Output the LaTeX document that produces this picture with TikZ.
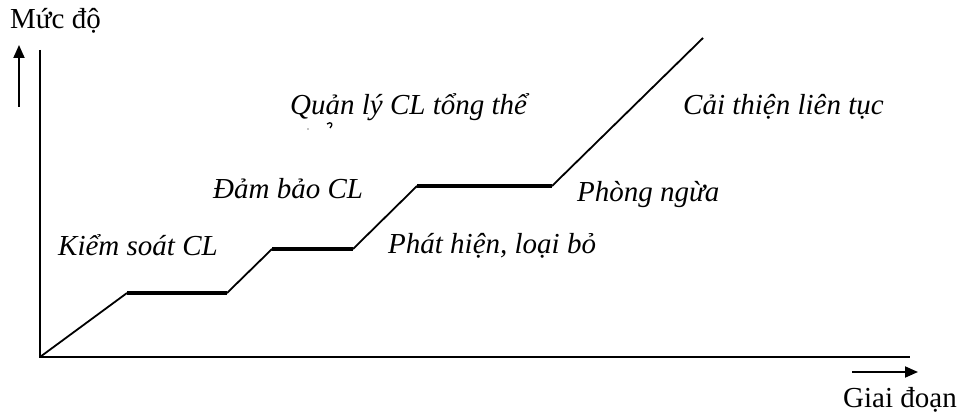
\documentclass[tikz,border=0pt]{standalone}
\usepackage{fontspec}
\setmainfont{Liberation Serif}
\usetikzlibrary{arrows.meta}
\begin{document}
\begin{tikzpicture}[x=1pt,y=-1pt,
  thinline/.style={line width=1.8pt},
  plateau/.style={line width=4.8pt},
  stage/.style={font=\fontsize{29}{34}\selectfont\itshape, inner sep=0pt, anchor=base west},
  axistext/.style={font=\fontsize{29}{34}\selectfont, inner sep=0pt, anchor=base west},
  pointer/.style={line width=1.8pt, -{Triangle[length=13pt,width=11pt]}}]
\useasboundingbox (0,0) rectangle (958,414);

% axes
\coordinate (O) at (40,357);
\coordinate (ytop) at (40,50);
\coordinate (xend) at (910,357);
\draw[thinline] (ytop) -- (O) -- (xend);

% direction arrows beside the axes
\coordinate (ua) at (19,107);
\coordinate (ub) at (19,45);
\draw[pointer] (ua) -- (ub);
\coordinate (ra) at (852,372);
\coordinate (rb) at (918,372);
\draw[pointer] (ra) -- (rb);

% staircase
\coordinate (p1) at (127,293);
\coordinate (p2) at (227,293);
\coordinate (p3) at (272,249);
\coordinate (p4) at (353,249);
\coordinate (p5) at (417,186);
\coordinate (p6) at (552,186);
\coordinate (p7) at (703,38);
\draw[thinline] (O) -- (p1);
\draw[plateau] (p1) -- (p2);
\draw[thinline] (p2) -- (p3);
\draw[plateau] (p3) -- (p4);
\draw[thinline] (p4) -- (p5);
\draw[plateau] (p5) -- (p6);
\draw[thinline] (p6) -- (p7);

% labels
\node[axistext] (ylab) at (10,29) {Mức độ};
\node[axistext] (xlab) at (843,407) {Giai đoạn};
\node[stage] (s1) at (58,255) {Kiểm soát CL};
\node[stage] (s2) at (213,199) {Đảm bảo CL};
\node[stage] (s3) at (290,115) {Quản lý CL tổng thể};
\node[stage] (s4) at (388,253) {Phát hiện, loại bỏ};
\node[stage] (s5) at (577,202) {Phòng ngừa};
\node[stage] (s6) at (683,115) {Cải thiện liên tục};

% small hook mark below the top label
\draw[line width=1.3pt] (327,124) .. controls (331,121) and (334,124) .. (330,128);
\fill (308,129) circle (0.6pt);
\end{tikzpicture}
\end{document}
